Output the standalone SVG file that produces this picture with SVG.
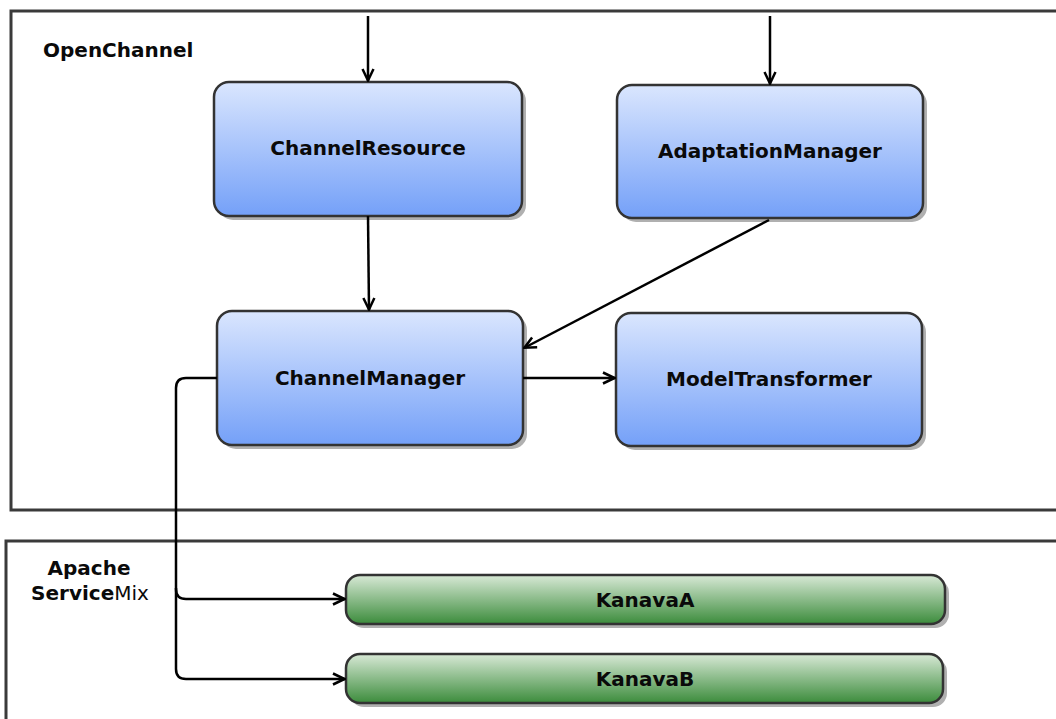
<svg xmlns="http://www.w3.org/2000/svg" width="1056" height="719" viewBox="0 0 1056 719">
  <style>
    .container { fill: #ffffff; stroke: #3a3a3a; stroke-width: 3; }
    .shadow { fill: #b0b0b0; }
    .blue { fill: url(#blueGrad); stroke: #333333; stroke-width: 2.5; }
    .green { fill: url(#greenGrad); stroke: #333333; stroke-width: 2.5; }
    .label { font-family: "DejaVu Sans", Verdana, sans-serif; font-weight: bold; font-size: 20px; fill: #0a0a0a; text-anchor: middle; }
    .group-label { font-family: "DejaVu Sans", Verdana, sans-serif; font-weight: bold; font-size: 20px; fill: #0a0a0a; }
    .edge { fill: none; stroke: #000000; stroke-width: 2.5; marker-end: url(#arrow); }
  </style>
  <defs>
    <linearGradient id="blueGrad" x1="0" y1="0" x2="0" y2="1">
      <stop offset="0" stop-color="#dae6fe"/>
      <stop offset="1" stop-color="#74a0f8"/>
    </linearGradient>
    <linearGradient id="greenGrad" x1="0" y1="0" x2="0" y2="1">
      <stop offset="0" stop-color="#d8e9d6"/>
      <stop offset="1" stop-color="#3c8c3c"/>
    </linearGradient>
    <marker id="arrow" viewBox="0 0 14 14" refX="13" refY="7" markerWidth="14" markerHeight="14" markerUnits="userSpaceOnUse" orient="auto">
      <path d="M1,1.5 L12.5,7 L1,12.5" fill="none" stroke="#000000" stroke-width="2.5"/>
    </marker>
  </defs>

  <!-- containers -->
  <g id="openchannel">
    <rect class="container" x="11" y="11" width="1060" height="499"/>
    <text class="group-label" x="43" y="57">OpenChannel</text>
  </g>
  <g id="servicemix">
    <rect class="container" x="6" y="541" width="1070" height="200"/>
    <text class="group-label" x="89" y="575" text-anchor="middle">Apache</text>
    <text class="group-label" x="90" y="600" text-anchor="middle">Service<tspan font-weight="normal">Mix</tspan></text>
  </g>

  <!-- nodes -->
  <g id="channelresource">
    <rect class="shadow" x="218" y="86" width="308" height="134" rx="15"/>
    <rect class="blue" x="214" y="82" width="308" height="134" rx="15"/>
    <text class="label" x="368" y="155">ChannelResource</text>
  </g>
  <g id="adaptationmanager">
    <rect class="shadow" x="621" y="89" width="306" height="133" rx="15"/>
    <rect class="blue" x="617" y="85" width="306" height="133" rx="15"/>
    <text class="label" x="770" y="158">AdaptationManager</text>
  </g>
  <g id="channelmanager">
    <rect class="shadow" x="221" y="315" width="306" height="134" rx="15"/>
    <rect class="blue" x="217" y="311" width="306" height="134" rx="15"/>
    <text class="label" x="370" y="385">ChannelManager</text>
  </g>
  <g id="modeltransformer">
    <rect class="shadow" x="620" y="317" width="306" height="133" rx="15"/>
    <rect class="blue" x="616" y="313" width="306" height="133" rx="15"/>
    <text class="label" x="769" y="386">ModelTransformer</text>
  </g>
  <g id="kanavaa">
    <rect class="shadow" x="350" y="579" width="599" height="49" rx="14"/>
    <rect class="green" x="346" y="575" width="599" height="49" rx="14"/>
    <text class="label" x="645" y="607">KanavaA</text>
  </g>
  <g id="kanavab">
    <rect class="shadow" x="350" y="658" width="597" height="49" rx="14"/>
    <rect class="green" x="346" y="654" width="597" height="49" rx="14"/>
    <text class="label" x="645" y="686">KanavaB</text>
  </g>

  <!-- connectors -->
  <g id="connectors">
    <path class="edge" d="M368,16 L368,81"/>
    <path class="edge" d="M770,16 L770,84"/>
    <path class="edge" d="M368,216 L369,310"/>
    <path class="edge" d="M769,220 L524,348"/>
    <path class="edge" d="M523,378 L615,378"/>
    <path class="edge" d="M217,378 L186,378 Q176,378 176,388 L176,589 Q176,599 186,599 L345,599"/>
    <path class="edge" d="M176,588 L176,669 Q176,679 186,679 L345,679"/>
  </g>
</svg>
